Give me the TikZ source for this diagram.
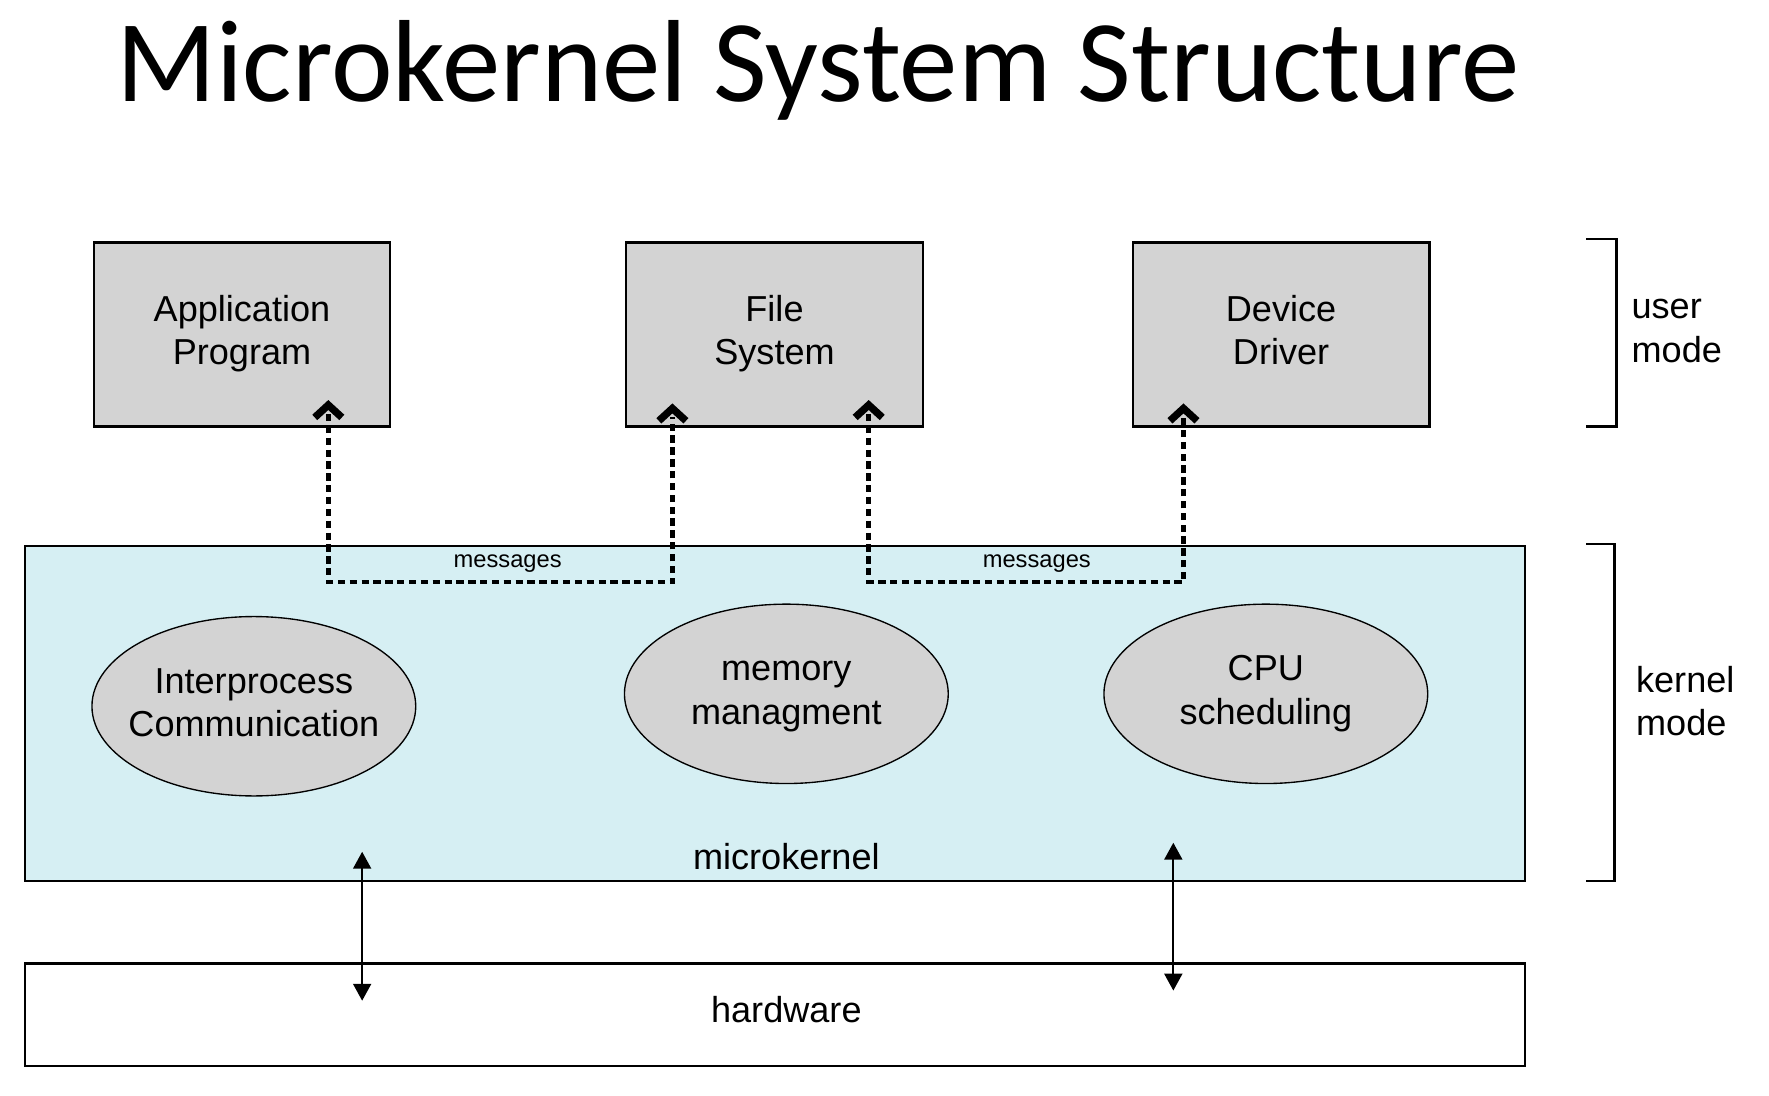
\documentclass[tikz,border=0pt]{standalone}
\usepackage{fontspec}
\setmainfont{Liberation Sans}
\newfontfamily\titlefont{Carlito}
\usetikzlibrary{arrows.meta,shapes.geometric}
\definecolor{boxgray}{HTML}{D3D3D3}
\definecolor{kcyan}{HTML}{D6EFF3}
\begin{document}
\begin{tikzpicture}[x=1pt,y=-1pt,
  bodytext/.style={font=\fontsize{32}{38.5}\selectfont, align=center, inner sep=0pt},
  userbox/.style={draw, line width=2pt, fill=boxgray, minimum width=263pt, minimum height=163pt, anchor=north west, inner sep=0pt},
  svcell/.style={ellipse, draw, line width=1.2pt, fill=boxgray, minimum width=287pt, minimum height=159pt, inner sep=0pt},
  layerbox/.style={draw, line width=2pt, anchor=north west, minimum width=1330pt, inner sep=0pt},
  msgpath/.style={line width=4.1pt, dash pattern=on 6.5pt off 4pt},
  chev/.style={line width=6.5pt, miter limit=10},
  hwarrow/.style={line width=1.6pt, {Triangle[length=15pt,width=16pt]}-{Triangle[length=15pt,width=16pt]}},
  bracket/.style={line width=2.2pt},
  smalltext/.style={font=\fontsize{21}{25}\selectfont}
]
\useasboundingbox (0,0) rectangle (1568,970.6);
\node[anchor=base, font=\titlefont\fontsize{103.5}{124}\selectfont] (title) at (725,90) {Microkernel System Structure};

% user mode boxes
\node[userbox] (app) at (82,214) {};
\node[bodytext] (appl) at (app.center) {Application\strut\\Program\strut};
\node[userbox] (fs) at (554,214) {};
\node[bodytext] (fsl) at (fs.center) {File\strut\\System\strut};
\node[userbox] (dd) at (1003,214) {};
\node[bodytext] (ddl) at (dd.center) {Device\strut\\Driver\strut};

% kernel
\node[layerbox, fill=kcyan, minimum height=297pt] (kern) at (21,483) {};
\node[svcell] (ipc) at (225,626) {};
\node[bodytext] (ipcl) at (ipc.center) {Interprocess\strut\\Communication\strut};
\node[svcell] (mem) at (697,615) {};
\node[bodytext] (meml) at (mem.center) {memory\strut\\managment\strut};
\node[svcell] (cpu) at (1122,615) {};
\node[bodytext] (cpul) at (cpu.center) {CPU\strut\\scheduling\strut};
\node[bodytext, anchor=base] (mk) at (697,771) {microkernel};

% hardware
\node[layerbox, fill=white, minimum height=91pt] (hw) at (21,853) {};
\node[bodytext, anchor=base] (hwl) at (697,906) {hardware};

% message paths
\coordinate (a1) at (291,359);
\coordinate (a2) at (596,362);
\coordinate (b1) at (770,359);
\coordinate (b2) at (1049,362);
\draw[msgpath] (291,367) -- (291,516) -- (596,516) -- (596,370);
\draw[msgpath] (770,367) -- (770,516) -- (1049,516) -- (1049,370);
\draw[chev] (a1) ++(-12,11) -- (a1) -- ++(12,11);
\draw[chev] (a2) ++(-12,11) -- (a2) -- ++(12,11);
\draw[chev] (b1) ++(-12,11) -- (b1) -- ++(12,11);
\draw[chev] (b2) ++(-12,11) -- (b2) -- ++(12,11);
\node[smalltext, anchor=base] (m1) at (450,503) {messages};
\node[smalltext, anchor=base] (m2) at (919,503) {messages};

% hardware arrows
\coordinate (h1t) at (321,755);
\coordinate (h1b) at (321,887);
\coordinate (h2t) at (1040,747);
\coordinate (h2b) at (1040,878);
\draw[hwarrow] (h1t) -- (h1b);
\draw[hwarrow] (h2t) -- (h2b);

% brackets
\draw[bracket] (1406,212) -- (1433,212) -- (1433,378) -- (1406,378);
\draw[bracket] (1406,482) -- (1431,482) -- (1431,781) -- (1406,781);
\node[bodytext, align=left, anchor=west] (um) at (1446,294) {user\strut\\mode\strut};
\node[bodytext, align=left, anchor=west] (km) at (1450,625) {kernel\strut\\mode\strut};
\end{tikzpicture}
\end{document}
